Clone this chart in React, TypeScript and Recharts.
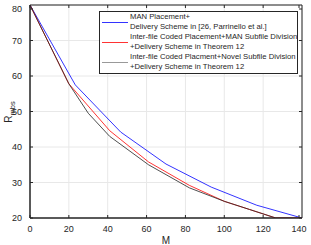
import { LineChart, Line, XAxis, YAxis, CartesianGrid, ReferenceArea, Legend, Label } from 'recharts';

// cache memory M vs. load R_mbs
const manM = [0, 23.3, 46.7, 70, 93.3, 116.7, 140];
const manR = [80, 57.5, 44.2, 35.2, 28.7, 23.6, 20];

const codedM = [0, 20, 41, 61, 82, 100, 113, 126.5, 140];
const codedR = [80, 57.8, 44.6, 35.8, 29.2, 24.7, 22.4, 20, 20];

const novelM = [0, 20, 30, 41, 61, 82, 100, 113, 126.5, 140];
const novelR = [80, 57.8, 49.5, 43, 35, 28.5, 24.7, 22.4, 20, 20];

const xTicks = [0, 20, 40, 60, 80, 100, 120, 140];
const yTicks = [20, 30, 40, 50, 60, 70, 80];

const legendLines = [
    ['MAN Placement+', 'Delivery Scheme in [26, Parrinello et al.]'],
    ['Inter-file Coded Placement+MAN Subfile Division', '+Delivery Scheme in Theorem 12'],
    ['Inter-file Coded Placment+Novel Subfile Division', '+Delivery Scheme in Theorem 12'],
];
const legendColors = ['#3333ff', '#ff3333', '#999999'];

const toPoints = (xs: number[], ys: number[]) => xs.map((m, i) => ({ m, r: ys[i] }));

const FONT = '"Liberation Sans", Arial, sans-serif';
const AXIS = '#262626';
const TOP = 5; // plot top (margin.top)
const LEFT = 30; // plot left (yAxis width)
const RIGHT = 302;
const BOTTOM = 218;

const XTick = (props: any) => {
    const { x, y, payload } = props;
    return (
        <g>
            <line x1={x} y1={BOTTOM} x2={x} y2={BOTTOM - 3} stroke={AXIS} />
            <line x1={x} y1={TOP} x2={x} y2={TOP + 3} stroke={AXIS} />
            <text x={x} y={y} dy="0.71em" textAnchor="middle" fontSize={9} fontFamily={FONT} fill={AXIS}>
                {payload.value}
            </text>
        </g>
    );
};

const YTick = (props: any) => {
    const { x, y, payload } = props;
    return (
        <g>
            <line x1={LEFT} y1={y} x2={LEFT + 3} y2={y} stroke={AXIS} />
            <line x1={RIGHT} y1={y} x2={RIGHT - 3} y2={y} stroke={AXIS} />
            <text x={x} y={y} dy="0.355em" textAnchor="end" fontSize={9} fontFamily={FONT} fill={AXIS}>
                {payload.value}
            </text>
        </g>
    );
};

const renderLegend = () => (
    <div
        style={{
            position: 'relative',
            width: 197,
            height: 61,
            border: `1px solid ${AXIS}`,
            background: '#fff',
            fontFamily: FONT,
            fontSize: 7.7,
            color: AXIS,
            lineHeight: '10px',
            textAlign: 'left',
        }}
    >
        {legendLines.map((pair, i) => (
            <div key={i} style={{ position: 'absolute', left: 0, top: 20 * i, width: 197, height: 20 }}>
                <div style={{ position: 'absolute', left: 2, top: 10, width: 26, height: 1, background: legendColors[i] }} />
                <div style={{ position: 'absolute', left: 30, top: 0, whiteSpace: 'nowrap' }}>
                    {pair[0]}
                    <br />
                    {pair[1]}
                </div>
            </div>
        ))}
    </div>
);

const yLabel = () => {
    const cx = 12;
    const cy = 112;
    return (
        <text x={cx} y={cy} transform={`rotate(-90 ${cx} ${cy})`} textAnchor="middle" fontSize={10} fontFamily={FONT} fill={AXIS}>
            R<tspan dy={2.5} fontSize={7.5}>mbs</tspan>
        </text>
    );
};

export default function App() {
    return (
        <div style={{ position: 'fixed', left: 0, top: 0, width: 311, height: 245, background: '#fff' }}>
            <LineChart width={311} height={245} margin={{ top: TOP, right: 9, bottom: 0, left: 0 }}>
                <CartesianGrid stroke="#e8e8e8" />
                <XAxis
                    dataKey="m"
                    type="number"
                    domain={[0, 140]}
                    ticks={xTicks}
                    height={27}
                    tick={<XTick />}
                    tickLine={false}
                    tickSize={6}
                    tickMargin={2}
                    axisLine={{ stroke: AXIS }}
                    allowDataOverflow
                >
                    <Label value="M" position="insideBottom" offset={1} fontSize={10} fontFamily={FONT} fill={AXIS} />
                </XAxis>
                <YAxis
                    type="number"
                    domain={[20, 80]}
                    ticks={yTicks}
                    width={30}
                    tick={<YTick />}
                    tickLine={false}
                    tickSize={6}
                    tickMargin={2}
                    axisLine={{ stroke: AXIS }}
                    allowDataOverflow
                >
                    <Label content={yLabel} />
                </YAxis>
                <ReferenceArea x1={0} x2={140} y1={20} y2={80} fill="none" stroke={AXIS} strokeWidth={1} />
                <Line data={toPoints(manM, manR)} dataKey="r" stroke="#0000ff" strokeWidth={0.8} dot={false} isAnimationActive={false} />
                <Line data={toPoints(codedM, codedR)} dataKey="r" stroke="#ff0000" strokeWidth={0.8} dot={false} isAnimationActive={false} />
                <Line data={toPoints(novelM, novelR)} dataKey="r" stroke="#222222" strokeWidth={0.8} dot={false} isAnimationActive={false} />
                <Legend
                    content={renderLegend}
                    layout="vertical"
                    align="center"
                    verticalAlign="middle"
                    wrapperStyle={{ left: 99, top: 11, width: 199 }}
                />
            </LineChart>
        </div>
    );
}
